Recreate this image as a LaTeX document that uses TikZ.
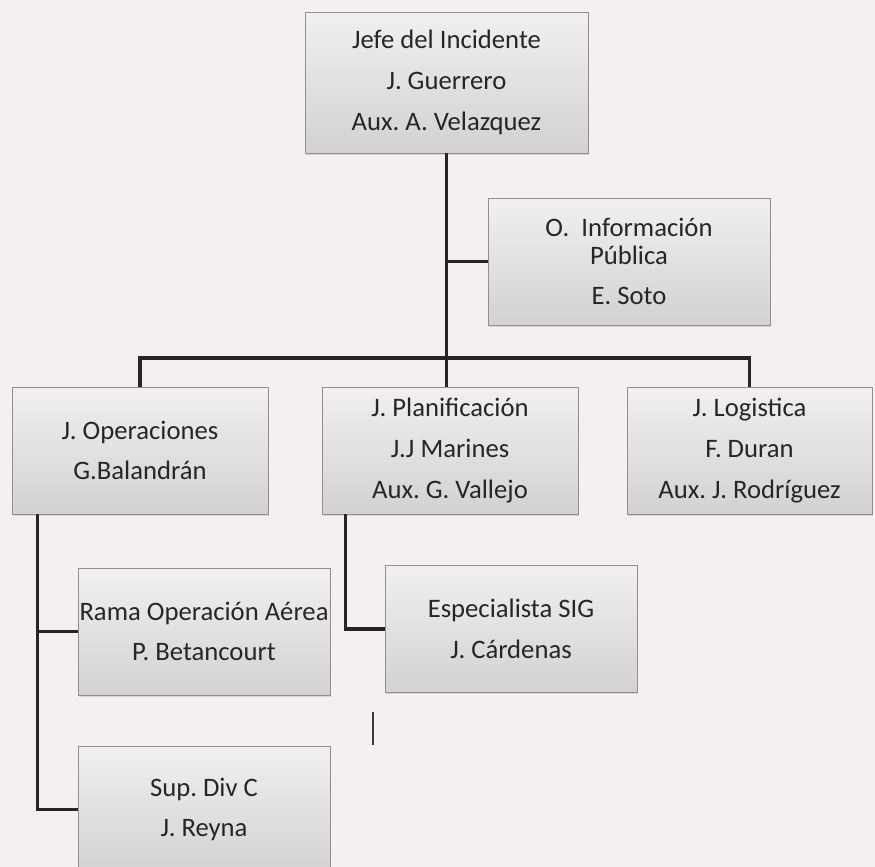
\documentclass[tikz,border=0pt]{standalone}
\usepackage{fontspec}
\setmainfont{Carlito}
\frenchspacing
\usetikzlibrary{calc,shadows}

\begin{document}
\begin{tikzpicture}[x=0.75pt,y=0.75pt,yscale=-1,xscale=1,
    puesto/.style={draw={rgb,255:red,145;green,142;blue,142}, line width=0.6,
      top color={rgb,255:red,241;green,239;blue,239}, bottom color={rgb,255:red,212;green,209;blue,210},
      drop shadow={opacity=0.25, shadow xshift=0.8pt, shadow yshift=-1.2pt},
      align=center, inner sep=0pt, minimum height=95.25pt,
      text={rgb,255:red,40;green,37;blue,37}, font=\fontsize{20}{21}\selectfont},
    conector/.style={draw={rgb,255:red,40;green,36;blue,36}, line width=2.4}]
        %Background
        \fill [color={rgb, 255:red, 245; green, 240; blue, 240 }] (0,0) rectangle (875,867);
        \useasboundingbox (0,0) rectangle (875,867);
        %Boxes
        \node [puesto, minimum width=212.25pt, minimum height=105.75pt] (jefe) at (446.5,82.5) {Jefe del Incidente\\[9.5pt]J. Guerrero\\[9.5pt]Aux. A. Velazquez};
        \node [puesto, minimum width=211.5pt] (info) at (629,261.5) {O.~~Información\\Pública\\[9.5pt]E. Soto};
        \node [puesto, minimum width=192pt] (ops) at (140,450.5) {J. Operaciones\\[9.5pt]G.Balandrán};
        \node [puesto, minimum width=192pt] (plan) at (450,450.5) {J. Planificación\\[9.5pt]J.J Marines\\[9.5pt]Aux. G. Vallejo};
        \node [puesto, minimum width=183.75pt] (log) at (749.5,450.5) {J. Logistica\\[9.5pt]F. Duran\\[9.5pt]Aux. J. Rodríguez};
        \node [puesto, minimum width=189pt] (rama) at (204,631.5) {Rama Operación Aérea\\[9.5pt]P. Betancourt};
        \node [puesto, minimum width=189pt] (esp) at (511,629) {Especialista SIG\\[9.5pt]J. Cárdenas};
        \node [puesto, minimum width=189pt] (sup) at (204,809.5) {Sup. Div C\\[9.5pt]J. Reyna};
        %Connectors
        \coordinate (barra) at (446.5,358);
        \draw [conector] (jefe.south) -- (barra);
        \draw [conector] (jefe.south |- info.west) -- (info.west);
        \draw [conector] (ops.north) |- (barra) -| (log.north);
        \draw [conector] (barra) -- (barra |- plan.north);
        \coordinate (opsbajo) at ($(ops.south west)+(26,0)$);
        \draw [conector] (opsbajo) |- (rama.west);
        \draw [conector] (opsbajo) |- (sup.west);
        \coordinate (planbajo) at ($(plan.south west)+(24,0)$);
        \draw [conector] (planbajo) |- (esp.west);
        %Cursor mark
        \draw [color={rgb, 255:red, 60; green, 56; blue, 56 }, line width=1] (373,712) -- (373,745);
\end{tikzpicture}
\end{document}
